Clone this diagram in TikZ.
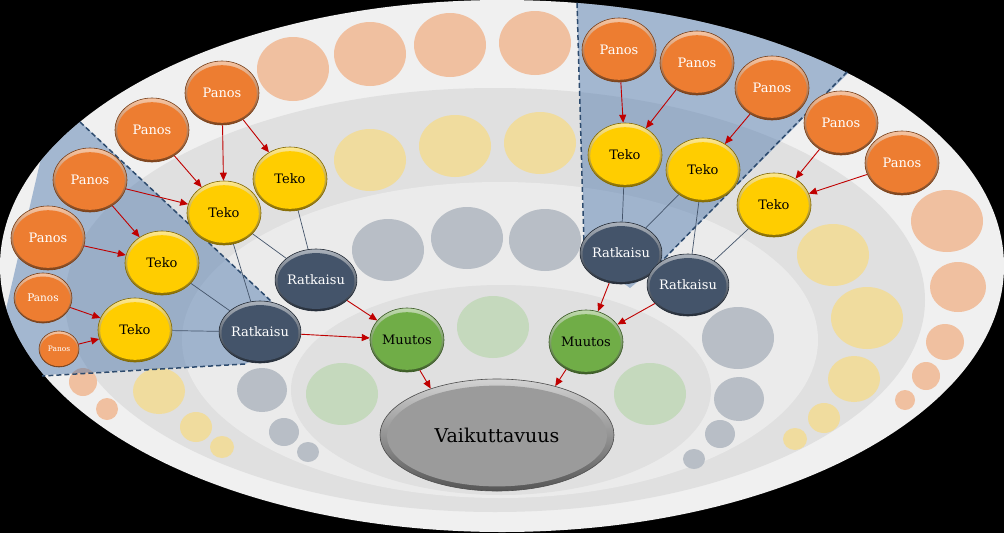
\documentclass[tikz,border=0pt]{standalone}
\usepackage{fontspec}
\setmainfont{DejaVu Serif}
\usetikzlibrary{arrows.meta, calc, shapes.geometric}

\definecolor{panosc}{RGB}{237,125,49}
\definecolor{tekoc}{RGB}{255,205,0}
\definecolor{ratkc}{RGB}{68,84,106}
\definecolor{muutosc}{RGB}{112,173,71}
\definecolor{vaikc}{RGB}{155,155,155}
\definecolor{arrred}{RGB}{192,0,0}
\definecolor{fadeor}{RGB}{240,192,160}
\definecolor{fadeye}{RGB}{240,220,158}
\definecolor{fadegr}{RGB}{184,190,198}
\definecolor{fadegn}{RGB}{197,217,189}
\definecolor{wedgec}{RGB}{70,114,170}
\definecolor{wedgeln}{RGB}{45,75,110}

\begin{document}
\begin{tikzpicture}[x=1pt, y=-1pt,
  ball/.style={ellipse, inner sep=0pt, minimum width=74pt, minimum height=64pt,
    font=\fontsize{13}{15}\selectfont, draw=#1!50!black, line width=0.6pt,
    top color=#1!45!white, bottom color=#1!55!black,
    path picture={\path[fill=#1] let \p1=($(path picture bounding box.north east)-(path picture bounding box.south west)$)
      in ($(path picture bounding box.center)+(0,1)$) ellipse [x radius=0.47*\x1, y radius=0.45*\y1];}},
  panos/.style={ball=panosc, text=white},
  teko/.style={ball=tekoc, text=black},
  ratk/.style={ball=ratkc, text=white, minimum width=70pt, minimum height=62pt},
  muutos/.style={ball=muutosc, text=black},
  vaik/.style={ball=vaikc, text=black, minimum width=234pt, minimum height=112pt, font=\fontsize{19}{22}\selectfont},
  arr/.style={-{Triangle[length=8pt, width=7pt]}, draw=arrred, line width=0.9pt},
  link/.style={draw=ratkc, line width=0.7pt},
  wedge/.style={fill=wedgec, fill opacity=0.45},
  wedgeline/.style={draw=wedgeln, dash pattern=on 5pt off 3pt, line width=1.5pt}]

% background
\fill[black] (0,0) rectangle (1004,533);
\useasboundingbox (0,0) rectangle (1004,533);
\fill[black!6] (502,266) ellipse [x radius=502, y radius=266];
\fill[black!12] (495,300) ellipse [x radius=430, y radius=212];
\fill[black!8] (500,340) ellipse [x radius=318, y radius=158];
\fill[black!12] (501,390) ellipse [x radius=210, y radius=105];

% faded circles
\foreach \x/\y/\a/\b in {293/69/36/32, 370/54/36/32, 450/45/36/32, 535/43/36/32,
    947/221/36/31, 958/287/28/25, 945/342/19/18, 926/376/14/14, 905/400/10/10,
    83/382/14/14, 107/409/11/11}
  \fill[fadeor] (\x,\y) ellipse [x radius=\a, y radius=\b];
\foreach \x/\y/\a/\b in {370/160/36/31, 455/146/36/31, 540/143/36/31,
    833/255/36/31, 867/318/36/31, 854/379/26/23, 824/418/16/15, 795/439/12/11,
    159/391/26/23, 196/427/16/15, 222/447/12/11}
  \fill[fadeye] (\x,\y) ellipse [x radius=\a, y radius=\b];
\foreach \x/\y/\a/\b in {388/250/36/31, 467/238/36/31, 545/240/36/31,
    738/338/36/31, 739/399/25/22, 720/434/15/14, 694/459/11/10,
    262/390/25/22, 284/432/15/14, 308/452/11/10}
  \fill[fadegr] (\x,\y) ellipse [x radius=\a, y radius=\b];
\foreach \x/\y in {493/327, 342/394, 650/394}
  \fill[fadegn] (\x,\y) ellipse [x radius=36, y radius=31];

% shaded wedges
\begin{scope}
  \clip (502,266) ellipse [x radius=502, y radius=266];
  \fill[wedge] (55,98) -- (272,302) -- (284,348) -- (245,364) -- (-10,378) -- cycle;
  \fill[wedge] (576,-20) -- (880,41) -- (660,263) -- (630,288) -- (585,255) -- cycle;
\end{scope}
\coordinate (wl1) at (80,122);
\coordinate (wl2) at (272,302);
\coordinate (wl3) at (245,364);
\coordinate (wl4) at (42,376);
\coordinate (wr1) at (577,3);
\coordinate (wr2) at (584,245);
\coordinate (wr3) at (847,72);
\coordinate (wr4) at (658,265);
\draw[wedgeline] (wl1) -- (wl2);
\draw[wedgeline] (wl3) -- (wl4);
\draw[wedgeline] (wr1) -- (wr2);
\draw[wedgeline] (wr3) -- (wr4);

% left group
\node[panos] (panosA) at (222,93) {Panos};
\node[panos] (panosB) at (152,130) {Panos};
\node[panos] (panosC) at (90,180) {Panos};
\node[panos] (panosD) at (48,238) {Panos};
\node[panos, minimum width=58pt, minimum height=50pt, font=\fontsize{10.5}{12}\selectfont] (panosE) at (43,298) {Panos};
\node[panos, minimum width=40pt, minimum height=36pt, font=\fontsize{7.5}{8}\selectfont] (panosF) at (59,349) {Panos};
\node[teko] (teko1) at (224,213) {Teko};
\node[teko] (teko2) at (290,179) {Teko};
\node[teko] (teko3) at (162,263) {Teko};
\node[teko] (teko4) at (135,330) {Teko};
\node[ratk] (ratk1) at (260,332) {Ratkaisu};
\node[ratk] (ratk2) at (316,280) {Ratkaisu};

% right group
\node[panos] (panosR1) at (619,50) {Panos};
\node[panos] (panosR2) at (697,63) {Panos};
\node[panos] (panosR3) at (772,88) {Panos};
\node[panos] (panosR4) at (841,123) {Panos};
\node[panos] (panosR5) at (902,163) {Panos};
\node[teko] (tekoR1) at (625,155) {Teko};
\node[teko] (tekoR2) at (703,170) {Teko};
\node[teko] (tekoR3) at (774,205) {Teko};
\node[ratk] (ratkR1) at (621,253) {Ratkaisu};
\node[ratk] (ratkR2) at (688,285) {Ratkaisu};

% centre
\node[muutos] (muutos1) at (407,340) {Muutos};
\node[muutos] (muutos2) at (586,342) {Muutos};
\node[vaik] (vaik) at (497,435) {Vaikuttavuus};

% links
\draw[link] (teko1) -- (ratk1);
\draw[link] (teko1) -- (ratk2);
\draw[link] (teko2) -- (ratk2);
\draw[link] (teko3) -- (ratk1);
\draw[link] (teko4) -- (ratk1);
\draw[link] (tekoR1) -- (ratkR1);
\draw[link] (tekoR2) -- (ratkR1);
\draw[link] (tekoR2) -- (ratkR2);
\draw[link] (tekoR3) -- (ratkR2);

% arrows
\draw[arr] (panosA) -- (teko1);
\draw[arr] (panosA) -- (teko2);
\draw[arr] (panosB) -- (teko1);
\draw[arr] (panosC) -- (teko1);
\draw[arr] (panosC) -- (teko3);
\draw[arr] (panosD) -- (teko3);
\draw[arr] (panosE) -- (teko4);
\draw[arr] (panosF) -- (teko4);
\draw[arr] (ratk1) -- (muutos1);
\draw[arr] (ratk2) -- (muutos1);
\draw[arr] (muutos1.-67) -- (vaik.145);
\draw[arr] (panosR1) -- (tekoR1);
\draw[arr] (panosR2) -- (tekoR1);
\draw[arr] (panosR3) -- (tekoR2);
\draw[arr] (panosR4) -- (tekoR3);
\draw[arr] (panosR5) -- (tekoR3);
\draw[arr] (ratkR1) -- (muutos2);
\draw[arr] (ratkR2) -- (muutos2);
\draw[arr] (muutos2.234) -- (vaik.40);
\end{tikzpicture}
\end{document}
